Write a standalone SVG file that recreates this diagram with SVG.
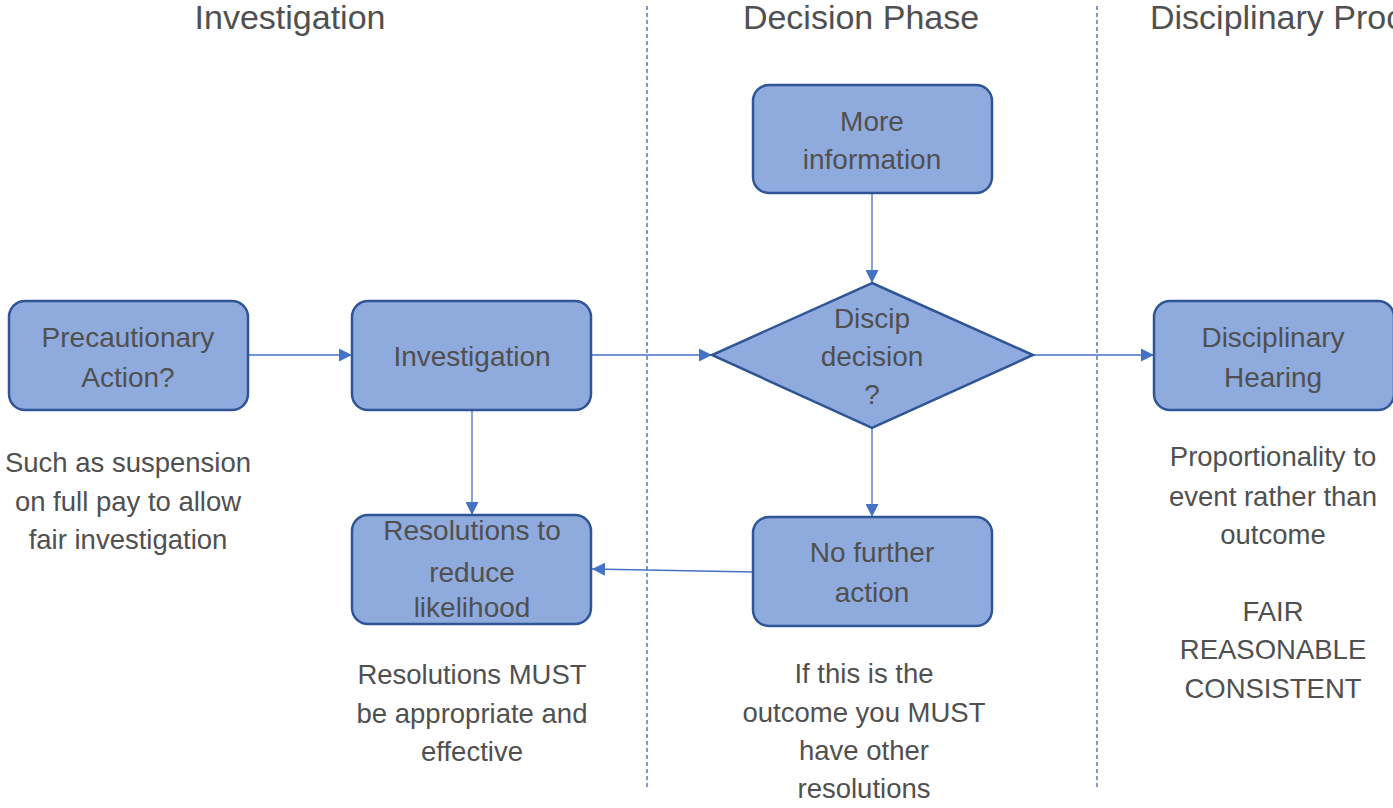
<svg xmlns="http://www.w3.org/2000/svg" width="1393" height="808" viewBox="0 0 1393 808">
  <style>
    .node { fill: #8faadc; stroke: #2f5597; stroke-width: 2.5; }
    .lbl { font-family: "Liberation Sans", Arial, sans-serif; font-size: 28px; fill: #505050; text-anchor: middle; }
    .head { font-family: "Liberation Sans", Arial, sans-serif; font-size: 34px; fill: #505050; text-anchor: middle; }
    .note { font-family: "Liberation Sans", Arial, sans-serif; font-size: 27.5px; fill: #505050; text-anchor: middle; }
    .sep { stroke: #2f5597; stroke-width: 1.2; stroke-dasharray: 4 3; fill: none; }
    .conn { stroke: #4472c4; stroke-width: 1.3; fill: none; marker-end: url(#arrow); }
  </style>
  <defs>
    <marker id="arrow" viewBox="0 0 10 10" refX="10" refY="5" markerWidth="14" markerHeight="13" markerUnits="userSpaceOnUse" orient="auto">
      <path d="M0,0 L10,5 L0,10 z" fill="#4472c4"/>
    </marker>
  </defs>
  <rect width="1393" height="808" fill="#ffffff"/>

  <!-- phase headings -->
  <g id="headings">
    <text class="head" x="290" y="29">Investigation</text>
    <text class="head" x="861" y="29">Decision Phase</text>
    <text class="head" x="1150" y="29" style="text-anchor:start">Disciplinary Process</text>
  </g>

  <!-- phase separators -->
  <g id="separators">
    <line class="sep" x1="647" y1="6" x2="647" y2="788"/>
    <line class="sep" x1="1097" y1="6" x2="1097" y2="788"/>
  </g>

  <!-- connectors -->
  <g id="connectors">
    <line class="conn" x1="249" y1="355" x2="352" y2="355"/>
    <line class="conn" x1="592" y1="355" x2="712" y2="355"/>
    <line class="conn" x1="1034" y1="355" x2="1154" y2="355"/>
    <line class="conn" x1="872" y1="194" x2="872" y2="283"/>
    <line class="conn" x1="472" y1="411" x2="472" y2="515"/>
    <line class="conn" x1="872" y1="429" x2="872" y2="517"/>
    <line class="conn" x1="753" y1="572" x2="592" y2="569"/>
  </g>

  <g id="precautionary">
    <rect class="node" x="9" y="301" width="239" height="109" rx="16"/>
    <text class="lbl" x="128" y="347">Precautionary</text>
    <text class="lbl" x="128" y="387">Action?</text>
  </g>

  <g id="investigation">
    <rect class="node" x="352" y="301" width="239" height="109" rx="16"/>
    <text class="lbl" x="472" y="366">Investigation</text>
  </g>

  <g id="more-information">
    <rect class="node" x="753" y="85" width="239" height="108" rx="16"/>
    <text class="lbl" x="872" y="131">More</text>
    <text class="lbl" x="872" y="169">information</text>
  </g>

  <g id="discip-decision">
    <polygon class="node" points="872,283 1033,355 872,428 712,355"/>
    <text class="lbl" x="872" y="328">Discip</text>
    <text class="lbl" x="872" y="366">decision</text>
    <text class="lbl" x="872" y="404">?</text>
  </g>

  <g id="disciplinary-hearing">
    <rect class="node" x="1154" y="301" width="240" height="109" rx="16"/>
    <text class="lbl" x="1273" y="347">Disciplinary</text>
    <text class="lbl" x="1273" y="387">Hearing</text>
  </g>

  <g id="resolutions">
    <rect class="node" x="352" y="515" width="239" height="109" rx="16"/>
    <text class="lbl" x="472" y="540">Resolutions to</text>
    <text class="lbl" x="472" y="582">reduce</text>
    <text class="lbl" x="472" y="617">likelihood</text>
  </g>

  <g id="no-further-action">
    <rect class="node" x="753" y="517" width="239" height="109" rx="16"/>
    <text class="lbl" x="872" y="562">No further</text>
    <text class="lbl" x="872" y="602">action</text>
  </g>

  <!-- explanatory notes -->
  <g id="notes">
    <text class="note" x="128" y="472">Such as suspension</text>
    <text class="note" x="128" y="511">on full pay to allow</text>
    <text class="note" x="128" y="549">fair investigation</text>

    <text class="note" x="472" y="684">Resolutions MUST</text>
    <text class="note" x="472" y="723">be appropriate and</text>
    <text class="note" x="472" y="761">effective</text>

    <text class="note" x="864" y="683">If this is the</text>
    <text class="note" x="864" y="722">outcome you MUST</text>
    <text class="note" x="864" y="760">have other</text>
    <text class="note" x="864" y="798">resolutions</text>

    <text class="note" x="1273" y="466">Proportionality to</text>
    <text class="note" x="1273" y="506">event rather than</text>
    <text class="note" x="1273" y="544">outcome</text>
    <text class="note" x="1273" y="621">FAIR</text>
    <text class="note" x="1273" y="659">REASONABLE</text>
    <text class="note" x="1273" y="698">CONSISTENT</text>
  </g>
</svg>
